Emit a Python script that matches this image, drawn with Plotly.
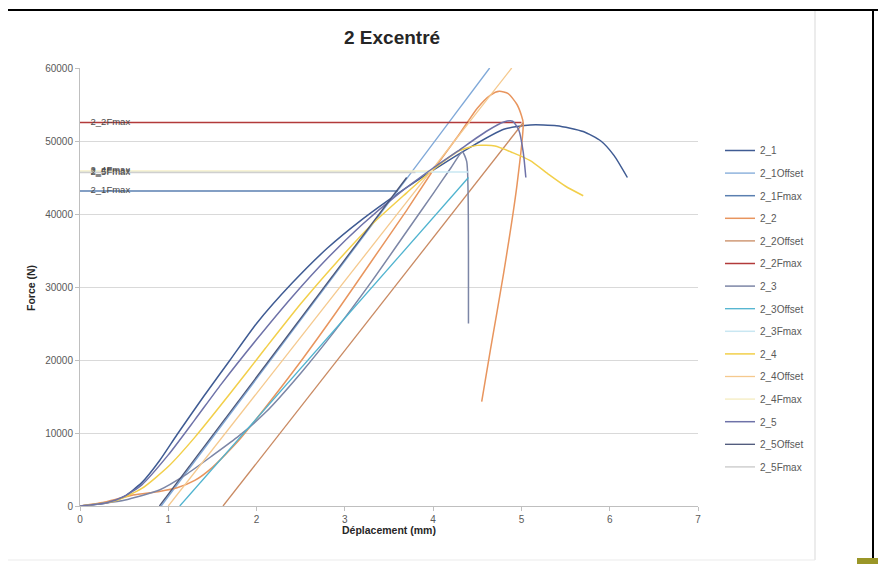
import plotly.graph_objects as go

# ---------------- data ----------------
disp_2_1 = [0, 0.3, 0.5, 0.7, 0.9, 1.1, 1.4, 1.7, 2.0, 2.4, 2.8, 3.2, 3.6, 4.0, 4.4, 4.8, 5.1, 5.4, 5.7, 5.9, 6.05, 6.2]
force_2_1 = [0, 400, 1300, 3200, 6200, 9800, 15000, 20000, 25000, 30500, 35300, 39300, 42800, 46000, 49000, 51600, 52200, 52100, 51300, 50000, 48000, 45000]
disp_2_1_offset = [0.92, 4.64]
force_2_1_offset = [0, 60000]
disp_2_1_fmax = [0, 3.6]
force_2_1_fmax = [43150, 43150]

disp_2_2 = [0, 0.3, 0.6, 0.9, 1.1, 1.3, 1.5, 1.8, 2.1, 2.5, 2.9, 3.3, 3.7, 4.0, 4.3, 4.5, 4.65, 4.75, 4.85, 4.95, 5.0, 5.02, 4.95, 4.8, 4.65, 4.55]
force_2_2 = [0, 600, 1500, 2000, 2500, 3500, 5300, 9000, 13500, 19800, 26500, 33500, 40500, 46000, 51000, 54500, 56300, 56800, 56500, 55000, 53500, 52500, 44000, 32000, 21500, 14300]
disp_2_2_offset = [1.62, 5.02]
force_2_2_offset = [0, 52500]
disp_2_2_fmax = [0, 5.0]
force_2_2_fmax = [52550, 52550]

disp_2_3 = [0, 0.5, 0.9, 1.2, 1.5, 1.8, 2.1, 2.5, 2.9, 3.3, 3.7, 4.0, 4.2, 4.33, 4.38, 4.4, 4.4]
force_2_3 = [0, 800, 2200, 4300, 6900, 9600, 12800, 18200, 24200, 30700, 37600, 42800, 46300, 48500, 47200, 35000, 25000]
disp_2_3_offset = [1.13, 4.4]
force_2_3_offset = [0, 45000]
disp_2_3_fmax = [0, 4.4]
force_2_3_fmax = [45750, 45750]

disp_2_4 = [0, 0.4, 0.7, 1.0, 1.3, 1.7, 2.1, 2.5, 2.9, 3.3, 3.7, 4.0, 4.3, 4.5, 4.7, 4.9, 5.1, 5.3, 5.5, 5.7]
force_2_4 = [0, 700, 2400, 5400, 9400, 15400, 21600, 27700, 33300, 38500, 42900, 46100, 48700, 49400, 49300, 48400, 47300, 45500, 43800, 42500]
disp_2_4_offset = [1.0, 4.89]
force_2_4_offset = [0, 60000]
disp_2_4_fmax = [0, 4.0]
force_2_4_fmax = [45900, 45900]

disp_2_5 = [0, 0.3, 0.5, 0.7, 1.0, 1.3, 1.6, 2.0, 2.4, 2.8, 3.2, 3.6, 4.0, 4.3, 4.6, 4.8, 4.9, 4.97, 5.02, 5.05]
force_2_5 = [0, 450, 1300, 2900, 7000, 11800, 16700, 22800, 28600, 33900, 38600, 42700, 46300, 48800, 51300, 52600, 52700, 51500, 48500, 45000]
disp_2_5_offset = [0.9, 3.7]
force_2_5_offset = [0, 45000]
disp_2_5_fmax = [0, 3.8]
force_2_5_fmax = [45700, 45700]

x_ticks = [0, 1, 2, 3, 4, 5, 6, 7]
y_ticks = [0, 10000, 20000, 30000, 40000, 50000, 60000]

title_text = "2 Excentré"
x_title = "Déplacement (mm)"
y_title = "Force (N)"

series = [
    ("2_1", disp_2_1, force_2_1, "#3F5B93", "curve"),
    ("2_1Offset", disp_2_1_offset, force_2_1_offset, "#7FA8D8", "offset"),
    ("2_1Fmax", disp_2_1_fmax, force_2_1_fmax, "#5A7FB0", "fmax"),
    ("2_2", disp_2_2, force_2_2, "#E8955E", "curve"),
    ("2_2Offset", disp_2_2_offset, force_2_2_offset, "#C98A62", "offset"),
    ("2_2Fmax", disp_2_2_fmax, force_2_2_fmax, "#B23A3A", "fmax"),
    ("2_3", disp_2_3, force_2_3, "#7C86A6", "curve"),
    ("2_3Offset", disp_2_3_offset, force_2_3_offset, "#4FB3CF", "offset"),
    ("2_3Fmax", disp_2_3_fmax, force_2_3_fmax, "#C9E7F2", "fmax"),
    ("2_4", disp_2_4, force_2_4, "#F2CF4A", "curve"),
    ("2_4Offset", disp_2_4_offset, force_2_4_offset, "#F5C98E", "offset"),
    ("2_4Fmax", disp_2_4_fmax, force_2_4_fmax, "#F6EFC8", "fmax"),
    ("2_5", disp_2_5, force_2_5, "#6E72A8", "curve"),
    ("2_5Offset", disp_2_5_offset, force_2_5_offset, "#4A5578", "offset"),
    ("2_5Fmax", disp_2_5_fmax, force_2_5_fmax, "#CFCFCF", "fmax"),
]

FONT = "Liberation Sans"

fig = go.Figure()
for name, xs, ys, col, kind in series:
    if kind == "fmax":
        fig.add_trace(go.Scatter(
            x=xs, y=ys, name=name, legendgroup=name, mode="lines+text",
            text=["    " + name] + [""] * (len(xs) - 1), textposition="middle right",
            textfont=dict(family=FONT, size=9.5, color="#4A4A4A"),
            line=dict(color=col, width=1.5),
        ))
    elif kind == "curve":
        fig.add_trace(go.Scatter(
            x=xs, y=ys, name=name, legendgroup=name, mode="lines",
            line=dict(color=col, width=1.5, shape="spline", smoothing=0.6),
        ))
    else:
        fig.add_trace(go.Scatter(
            x=xs, y=ys, name=name, legendgroup=name, mode="lines",
            line=dict(color=col, width=1.3),
        ))

# The page has an 8px body margin, so the figure is drawn 8px smaller and
# all placement below is expressed in reference-screenshot pixels.
W, H = 878, 556
PL, PT, PR, PB = 80, 68, 698, 506   # plot area in screenshot pixels
OFF = 8
L, T = PL - OFF, PT - OFF
R = W - L - (PR - PL)
B = H - T - (PB - PT)


def px_x(p):
    return (p - PL) / (PR - PL)


def px_y(p):
    return (PB - p) / (PB - PT)


shapes = [
    dict(type="line", xref="paper", yref="paper", x0=px_x(0), x1=px_x(890), y0=px_y(10), y1=px_y(10),
         line=dict(color="black", width=2)),
    dict(type="line", xref="paper", yref="paper", x0=px_x(873), x1=px_x(873), y0=px_y(10), y1=px_y(566),
         line=dict(color="black", width=2)),
    dict(type="line", xref="paper", yref="paper", x0=px_x(815), x1=px_x(815), y0=px_y(11), y1=px_y(560),
         line=dict(color="#D9D9D9", width=1)),
    dict(type="line", xref="paper", yref="paper", x0=px_x(0), x1=px_x(815), y0=px_y(560), y1=px_y(560),
         line=dict(color="#EBEBEB", width=1)),
    dict(type="rect", xref="paper", yref="paper", x0=px_x(857), x1=px_x(880), y0=px_y(558), y1=px_y(566),
         fillcolor="#9A9628", line=dict(width=0)),
]

annotations = [
    dict(text=f"<b>{title_text}</b>", xref="paper", yref="paper", x=px_x(392), y=px_y(38),
         showarrow=False, font=dict(family=FONT, size=19, color="#262626"), xanchor="center", yanchor="middle"),
    dict(text=f"<b>{x_title}</b>", xref="paper", yref="paper", x=px_x(389), y=px_y(530),
         showarrow=False, font=dict(family=FONT, size=10.5, color="#262626"), xanchor="center", yanchor="middle"),
    dict(text=f"<b>{y_title}</b>", xref="paper", yref="paper", x=px_x(31), y=px_y(288), textangle=-90,
         showarrow=False, font=dict(family=FONT, size=10.5, color="#262626"), xanchor="center", yanchor="middle"),
]

fig.update_layout(
    width=W, height=H,
    margin=dict(l=L, r=R, t=T, b=B, pad=0),
    paper_bgcolor="white", plot_bgcolor="white",
    showlegend=True,
    legend=dict(x=px_x(720), y=px_y(136), xanchor="left", yanchor="top",
                font=dict(family=FONT, size=10, color="#595959"),
                tracegroupgap=3.6, bgcolor="rgba(0,0,0,0)"),
    shapes=shapes, annotations=annotations,
    xaxis=dict(range=[0, 7], tickvals=x_ticks, ticktext=[str(v) for v in x_ticks],
               showgrid=False, zeroline=False, showline=True, linecolor="#BFBFBF", linewidth=1,
               ticks="outside", ticklen=4, tickcolor="#BFBFBF",
               tickfont=dict(family=FONT, size=10, color="#595959")),
    yaxis=dict(range=[0, 60000], tickvals=y_ticks, ticktext=[str(v) for v in y_ticks],
               showgrid=True, gridcolor="#D9D9D9", gridwidth=1, zeroline=False,
               showline=True, linecolor="#BFBFBF", linewidth=1,
               ticks="outside", ticklen=4, tickcolor="#BFBFBF",
               tickfont=dict(family=FONT, size=10, color="#595959")),
)

fig.write_html("out.html")
